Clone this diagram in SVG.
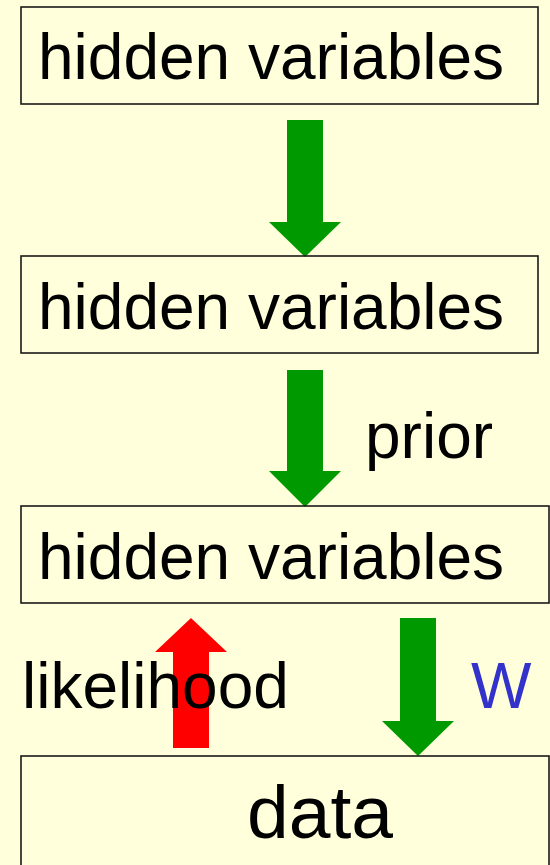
<svg xmlns="http://www.w3.org/2000/svg" width="550" height="865" viewBox="0 0 550 865">
<style>
.box{fill:none;stroke:#1a1a1a;stroke-width:1.6}
.t{font-family:"Liberation Sans",Arial,sans-serif;font-size:64px;fill:#000}
.g{fill:#009900}
.r{fill:#ff0000}
</style>
<rect x="0" y="0" width="550" height="865" fill="#ffffdb"/>
<g id="connectors">
<polygon class="g" points="287,120 323,120 323,222 341,222 305,257 269,222 287,222"/>
<polygon class="g" points="287,370 323,370 323,471 341,471 305,507 269,471 287,471"/>
<polygon class="r" points="173,748 209,748 209,652 227,652 191,618 155,652 173,652"/>
<polygon class="g" points="400,618 436,618 436,721 454,721 418,756 382,721 400,721"/>
</g>
<g id="node1">
<rect class="box" x="21" y="7" width="517" height="97"/>
<text class="t" x="38" y="79">hidden variables</text>
</g>
<g id="node2">
<rect class="box" x="21" y="256" width="517" height="97"/>
<text class="t" x="38" y="329">hidden variables</text>
</g>
<g id="node3">
<rect class="box" x="21" y="506" width="528" height="97"/>
<text class="t" x="38" y="579">hidden variables</text>
</g>
<g id="node4">
<rect class="box" x="21" y="756" width="528" height="110"/>
<text class="t" x="247" y="838" style="font-size:75px">data</text>
</g>
<text class="t" x="365" y="458">prior</text>
<text class="t" x="22" y="708">likelihood</text>
<text class="t" x="471" y="708" style="fill:#3333cc">W</text>
</svg>
